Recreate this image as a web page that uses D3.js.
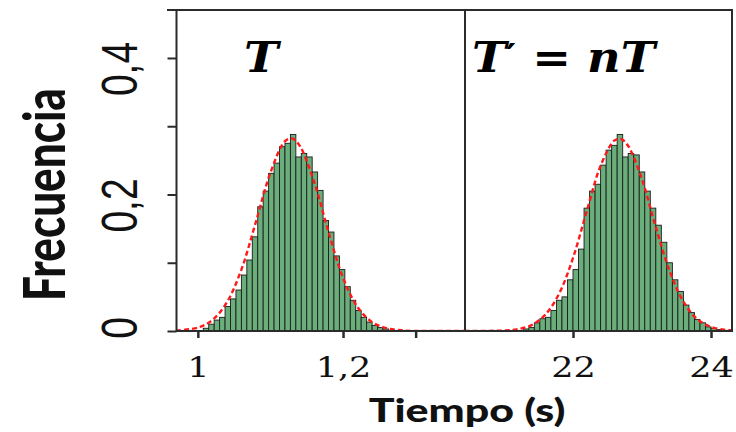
<!DOCTYPE html>
<html><head><meta charset="utf-8">
<script src="https://cdn.jsdelivr.net/npm/d3@7"></script>
<style>body{margin:0;background:#fff}</style>
</head><body><svg id="c" width="736" height="432"></svg>
<script>
// ---- data ----
const yTicks = [0, 0.1, 0.2, 0.3, 0.4];
const yTickLabels = ["0", "", "0,2", "", "0,4"];
const leftTicks = [1, 1.2, 1.3];
const leftTickLabels = ["1", "1,2", ""];
const rightTicks = [22, 24];
const rightTickLabels = ["22", "24"];

const leftBinStart = 1.0075, leftBinWidth = 0.0075;
const leftFreq = [0.004,0.010,0.016,0.020,0.036,0.047,0.060,0.082,0.104,0.138,0.182,0.205,0.231,0.246,0.270,0.275,0.288,0.255,0.260,0.255,0.233,0.206,0.162,0.145,0.110,0.090,0.065,0.045,0.030,0.020,0.013,0.008,0.005,0.003,0.001];

const rightBinStart = 21.28, rightBinWidth = 0.08;
const rightFreq = [0.003,0.005,0.012,0.018,0.020,0.030,0.045,0.050,0.075,0.090,0.120,0.180,0.205,0.215,0.243,0.265,0.272,0.288,0.255,0.260,0.258,0.233,0.205,0.180,0.155,0.130,0.100,0.075,0.058,0.038,0.027,0.017,0.012,0.006,0.004,0.002,0.001];

const leftCurveX = [0.97,1.00,1.02,1.04,1.06,1.08,1.10,1.12,1.13,1.14,1.16,1.18,1.20,1.22,1.24,1.26,1.28,1.30,1.37];
const leftCurveY = [0.0006,0.005,0.016,0.042,0.090,0.160,0.232,0.278,0.282,0.272,0.219,0.145,0.078,0.035,0.013,0.004,0.001,0.0001,0];
const rightCurveX = [20.43,21.0,21.2,21.4,21.6,21.8,22.0,22.2,22.4,22.6,22.7,22.8,23.0,23.2,23.4,23.6,23.8,24.0,24.2,24.31];
const rightCurveY = [0,0.0007,0.0026,0.0087,0.024,0.055,0.107,0.176,0.242,0.279,0.281,0.271,0.222,0.152,0.088,0.043,0.0174,0.006,0.0017,0.001];

// ---- layout ----
const svg = d3.select("#c");
const yTop = 10, yBase = 331, xL0 = 176.5, xMid = 465, xR1 = 732;
const y = d3.scaleLinear().domain([0, 0.4703]).range([yBase, yTop]);
const xLeft = d3.scaleLinear().domain([0.9706, 1.368]).range([xL0, xMid]);
const xRight = d3.scaleLinear().domain([20.435, 24.304]).range([xMid, xR1]);

const defs = svg.append("defs");
defs.append("clipPath").attr("id","clipL").append("rect").attr("x",xL0).attr("y",yTop).attr("width",xMid-xL0).attr("height",yBase-yTop);
defs.append("clipPath").attr("id","clipR").append("rect").attr("x",xMid).attr("y",yTop).attr("width",xR1-xMid).attr("height",yBase-yTop);

function panel(x, start, width, freq, cx, cy, clip){
  const g = svg.append("g").attr("clip-path", `url(#${clip})`);
  const bins = freq.map((f,i)=>({x0:start+i*width, x1:start+(i+1)*width, f}));
  g.selectAll("rect.bar").data(bins).join("rect").attr("class","bar")
    .attr("x", d=>x(d.x0)).attr("width", d=>x(d.x1)-x(d.x0))
    .attr("y", d=>y(d.f)).attr("height", d=>y(0)-y(d.f))
    .attr("fill","#6aae7c").attr("stroke","#1c1c1c").attr("stroke-width",0.9);
  const pts = cx.map((v,i)=>[v, cy[i]]);
  g.append("path").datum(pts)
    .attr("d", d3.line().x(d=>x(d[0])).y(d=>y(d[1])).curve(d3.curveCatmullRom))
    .attr("fill","none").attr("stroke","#ff1a1a").attr("stroke-width",2.4)
    .attr("stroke-dasharray","5,3");
}
panel(xLeft, leftBinStart, leftBinWidth, leftFreq, leftCurveX, leftCurveY, "clipL");
panel(xRight, rightBinStart, rightBinWidth, rightFreq, rightCurveX, rightCurveY, "clipR");

// frame
const frame = svg.append("g").attr("fill","none").attr("stroke","#2b2b2b").attr("stroke-width",2);
frame.append("rect").attr("x",xL0).attr("y",yTop).attr("width",xR1-xL0).attr("height",yBase-yTop);
frame.append("line").attr("x1",xMid).attr("x2",xMid).attr("y1",yTop).attr("y2",yBase);
frame.append("line").attr("x1",167).attr("x2",xL0).attr("y1",yTop).attr("y2",yTop);

// y axis
const ya = svg.append("g").attr("transform",`translate(${xL0},0)`)
  .call(d3.axisLeft(y).tickValues(yTicks).tickSize(9).tickFormat(""));
ya.select(".domain").remove();
ya.selectAll(".tick line").attr("stroke","#2b2b2b").attr("stroke-width",2);
svg.append("g").selectAll("text").data(yTicks.map((v,i)=>({v,l:yTickLabels[i]})).filter(d=>d.l))
  .join("text")
  .attr("transform", d=>`translate(137,${y(d.v) + (d.l.length>1?11:-3)}) scale(1.3,1) rotate(-90)`)
  .attr("text-anchor","middle")
  .attr("font-family","'Liberation Sans', Arial, sans-serif").attr("font-size",39).attr("fill","#111")
  .text(d=>d.l);

// x axes
function xaxis(x, ticks, labels){
  const g = svg.append("g").attr("transform",`translate(0,${yBase})`)
    .call(d3.axisBottom(x).tickValues(ticks).tickSize(7).tickFormat((d,i)=>labels[i]));
  g.select(".domain").remove();
  g.selectAll(".tick line").attr("stroke","#2b2b2b").attr("stroke-width",2.5);
  g.selectAll(".tick text").attr("y",46).attr("dy",null)
    .attr("transform","scale(1.3,1)")
    .attr("font-family","'DejaVu Serif', serif").attr("font-size",27).attr("fill","#111");
}
xaxis(xLeft, leftTicks, leftTickLabels);
xaxis(xRight, rightTicks, rightTickLabels);

// axis titles
svg.append("text").attr("transform","translate(65,194.5) scale(1.3,1) rotate(-90)")
  .attr("text-anchor","middle").attr("font-family","Lato, 'Open Sans', sans-serif")
  .attr("font-weight",900).attr("font-size",44).attr("fill","#111").text("Frecuencia");
svg.append("text").attr("transform","translate(467,422) scale(1.3,1)")
  .attr("text-anchor","middle").attr("font-family","Lato, 'Open Sans', sans-serif")
  .attr("font-weight",900).attr("font-size",33).attr("fill","#111").text("Tiempo (s)");

// panel labels
const serifBI = t => t.attr("font-family","'DejaVu Serif', serif").attr("font-weight","bold")
  .attr("font-style","italic").attr("font-size",42).attr("fill","#000");
svg.append("text").attr("transform","translate(244,72) scale(1.1,1)").call(serifBI).text("T");
const t2 = svg.append("text").attr("transform","translate(472,72) scale(1.1,1)").call(serifBI);
t2.append("tspan").text("T");
t2.append("tspan").attr("font-family","'DejaVu Sans', sans-serif").attr("font-style","normal")
  .attr("font-size",34).attr("dy",-4).text("′");
t2.append("tspan").attr("dy",4).text(" = nT");
</script></body></html>
